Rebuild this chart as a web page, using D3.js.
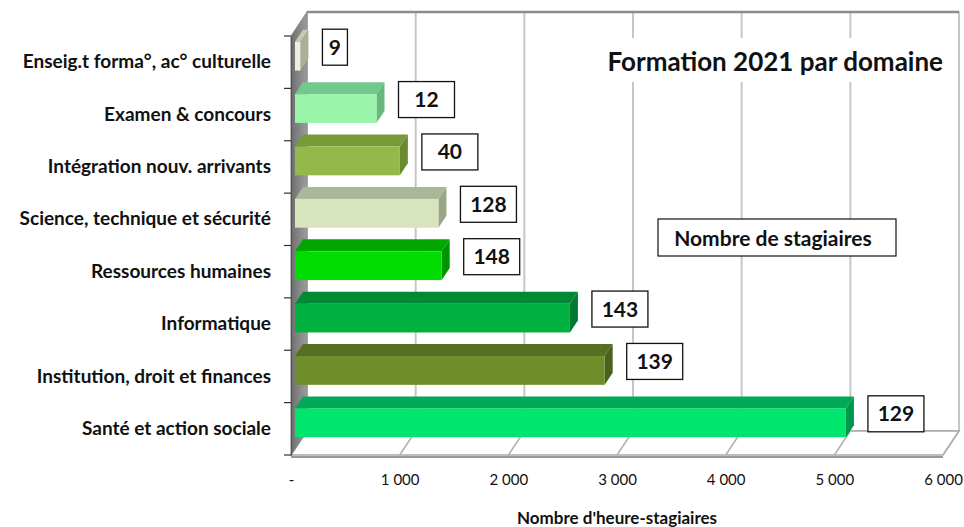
<!DOCTYPE html>
<html lang="fr">
<head>
<meta charset="utf-8">
<script src="https://cdn.jsdelivr.net/npm/d3@7"></script>
<style>
  html, body { margin: 0; padding: 0; background: #fff; }
  svg { display: block; }
  text { font-family: Lato, "Open Sans", sans-serif; fill: #111; }
</style>
</head>
<body>
<svg id="chart" width="964" height="527"></svg>
<script>
// Domaines de formation (du bas vers le haut du graphique)
const categories = [
  "Santé et action sociale",
  "Institution, droit et finances",
  "Informatique",
  "Ressources humaines",
  "Science, technique et sécurité",
  "Intégration nouv. arrivants",
  "Examen & concours",
  "Enseig.t forma°, ac° culturelle"
];
// Nombre d'heure-stagiaires par domaine
const heures = [5070, 2850, 2530, 1350, 1320, 965, 750, 50];
// Nombre de stagiaires par domaine (étiquettes)
const stagiaires = [129, 139, 143, 148, 128, 40, 12, 9];
// Graduations de l'axe horizontal
const xTicks = [0, 1000, 2000, 3000, 4000, 5000, 6000];

// Couleurs des barres : face avant, dessus, côté
const palette = [
  ["#00e56e", "#00a955", "#00964b"],
  ["#6e8e2a", "#566f22", "#4a601c"],
  ["#00b140", "#008a35", "#007a2f"],
  ["#00dc00", "#00a800", "#009400"],
  ["#d7e4bd", "#aab799", "#9aa588"],
  ["#93b94a", "#789a37", "#6a8a2e"],
  ["#99f3a9", "#73c98b", "#66b87c"],
  ["#ebf1de", "#c4cbb3", "#a9b095"]
];

const svg = d3.select("#chart");
const fr = d3.formatLocale({ decimal: ",", thousands: " ", grouping: [3], currency: ["", " €"] });
const fmt = fr.format(",");

// Plan avant du repère et décalage de profondeur
const x = d3.scaleLinear().domain([0, 6000]).range([291, 943]);
const y = d3.scaleBand().domain(categories).range([455, 36]);
const DX = 16, DY = -24;
const yTop = 36, yBottom = 455;
const proj = (v, yy, z) => [x(v) + z * DX, yy + z * DY];
const poly = pts => pts.map(p => p.join(",")).join(" ");

// Mur du fond
const bw0 = proj(0, yTop, 1), bw1 = proj(6000, yBottom, 1);
svg.append("rect")
  .attr("x", bw0[0]).attr("y", bw0[1])
  .attr("width", bw1[0] - bw0[0]).attr("height", bw1[1] - bw0[1])
  .attr("fill", "#fff").attr("stroke", "#b4b4b4").attr("stroke-width", 1.5);

// Quadrillage vertical du mur du fond
svg.append("g").selectAll("line").data(xTicks.slice(1, -1)).join("line")
  .attr("x1", d => proj(d, yTop, 1)[0]).attr("x2", d => proj(d, yTop, 1)[0])
  .attr("y1", bw0[1]).attr("y2", bw1[1])
  .attr("stroke", "#c6c6c6").attr("stroke-width", 2);

// Bord supérieur du mur
svg.append("line")
  .attr("x1", bw0[0]).attr("x2", bw1[0]).attr("y1", bw0[1]).attr("y2", bw0[1])
  .attr("stroke", "#8c8c8c").attr("stroke-width", 2.5);

// Plancher
svg.append("polygon")
  .attr("points", poly([proj(0, yBottom, 0), proj(6000, yBottom, 0), proj(6000, yBottom, 1), proj(0, yBottom, 1)]))
  .attr("fill", "#fff").attr("stroke", "#a8a8a8").attr("stroke-width", 1.5);
svg.append("g").selectAll("line").data(xTicks.slice(1)).join("line")
  .attr("x1", d => proj(d, yBottom, 0)[0]).attr("y1", d => proj(d, yBottom, 0)[1])
  .attr("x2", d => proj(d, yBottom, 1)[0]).attr("y2", d => proj(d, yBottom, 1)[1])
  .attr("stroke", "#b0b0b0").attr("stroke-width", 1.5);
svg.append("line")
  .attr("x1", x(0)).attr("x2", x(6000)).attr("y1", yBottom + 2).attr("y2", yBottom + 2)
  .attr("stroke", "#9a9a9a").attr("stroke-width", 2);

// Mur latéral gauche
const wallGrad = svg.append("defs").append("linearGradient")
  .attr("id", "wall").attr("x1", 0).attr("x2", 1).attr("y1", 0).attr("y2", 0);
wallGrad.append("stop").attr("offset", "0%").attr("stop-color", "#6f6f6f");
wallGrad.append("stop").attr("offset", "100%").attr("stop-color", "#9c9c9c");
svg.append("polygon")
  .attr("points", poly([proj(0, yTop, 0), proj(0, yTop, 1), proj(0, yBottom, 1), proj(0, yBottom, 0)]))
  .attr("fill", "url(#wall)").attr("stroke", "#8a8a8a").attr("stroke-width", 1);

// Barres en relief
const Z0 = 0.25, Z1 = 0.75, H = 0.55;
const bars = svg.append("g").selectAll("g").data(categories).join("g");
bars.each(function (c, i) {
  const g = d3.select(this);
  const v = heures[i];
  const bh = y.bandwidth() * H;
  const y0 = y(c) + (y.bandwidth() - bh) / 2, y1 = y0 + bh;
  const [front, top, side] = palette[i];
  g.append("polygon")
    .attr("points", poly([proj(0, y0, Z0), proj(v, y0, Z0), proj(v, y0, Z1), proj(0, y0, Z1)]))
    .attr("fill", top);
  g.append("polygon")
    .attr("points", poly([proj(v, y0, Z0), proj(v, y0, Z1), proj(v, y1, Z1), proj(v, y1, Z0)]))
    .attr("fill", side);
  const f0 = proj(0, y0, Z0), f1 = proj(v, y1, Z0);
  g.append("rect")
    .attr("x", f0[0]).attr("y", f0[1])
    .attr("width", f1[0] - f0[0]).attr("height", f1[1] - f0[1])
    .attr("fill", front);
});

// Axe vertical : libellés et graduations entre catégories
const yAxis = svg.append("g").attr("transform", `translate(${x(0)},0)`)
  .call(d3.axisLeft(y).tickSize(0).tickPadding(20));
yAxis.select(".domain").attr("stroke", "#555").attr("stroke-width", 1.2);
yAxis.selectAll("text")
  .style("font-family", "Lato, sans-serif").style("font-size", "19px")
  .style("font-weight", "700").attr("fill", "#111");
const bounds = categories.map(c => y(c)).concat([yBottom]);
svg.append("g").selectAll("line").data(bounds).join("line")
  .attr("x1", x(0) - 7).attr("x2", x(0)).attr("y1", d => d).attr("y2", d => d)
  .attr("stroke", "#333").attr("stroke-width", 1.2);

// Axe horizontal
const xAxis = svg.append("g").attr("transform", `translate(0,${yBottom})`)
  .call(d3.axisBottom(x).tickValues(xTicks).tickSize(0).tickPadding(19)
    .tickFormat(d => d === 0 ? "-" : fmt(d)));
xAxis.select(".domain").remove();
xAxis.selectAll("text")
  .style("font-family", "Lato, sans-serif").style("font-size", "15px").attr("fill", "#111");

svg.append("text")
  .attr("x", x(3000)).attr("y", 524).attr("text-anchor", "middle")
  .style("font-size", "17px").style("font-weight", "700")
  .text("Nombre d'heure-stagiaires");

// Étiquettes : nombre de stagiaires
const labels = svg.append("g").selectAll("g").data(categories).join("g");
labels.each(function (c, i) {
  const g = d3.select(this);
  const endX = proj(heures[i], 0, Z0)[0];
  const txt = String(stagiaires[i]);
  const w = txt.length > 1 ? 56 : 25;
  const h = 36;
  const cy = y(c) + y.bandwidth() / 2 - 15;
  const left = endX + 22;
  g.append("rect")
    .attr("x", left).attr("y", cy - h / 2).attr("width", w).attr("height", h)
    .attr("fill", "#fff").attr("stroke", "#111").attr("stroke-width", 1.3);
  g.append("text")
    .attr("x", left + w / 2).attr("y", cy).attr("dy", "0.36em")
    .attr("text-anchor", "middle")
    .style("font-size", "21px").style("font-weight", "700")
    .text(txt);
});

// Titre sur fond blanc
svg.append("rect").attr("x", 596).attr("y", 38).attr("width", 358).attr("height", 44).attr("fill", "#fff");
svg.append("text")
  .attr("x", 943).attr("y", 71).attr("text-anchor", "end")
  .style("font-size", "26px").style("font-weight", "700")
  .text("Formation 2021 par domaine");

// Encadré de légende
svg.append("rect").attr("x", 658).attr("y", 219).attr("width", 238).attr("height", 37)
  .attr("fill", "#fff").attr("stroke", "#111").attr("stroke-width", 1.2);
svg.append("text")
  .attr("x", 773).attr("y", 238).attr("dy", "0.36em").attr("text-anchor", "middle")
  .style("font-size", "21px").style("font-weight", "700")
  .text("Nombre de stagiaires");
</script>
</body>
</html>
